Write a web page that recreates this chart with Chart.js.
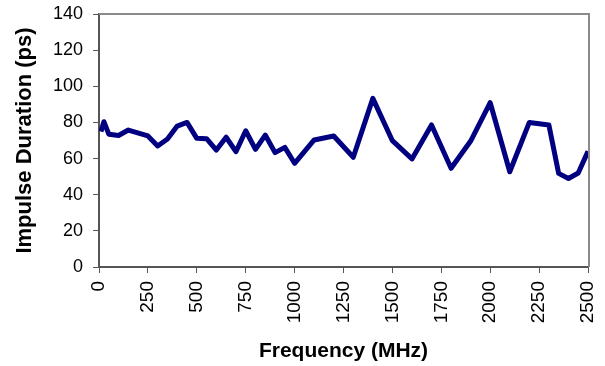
<!DOCTYPE html>
<html>
<head>
<meta charset="utf-8">
<script src="https://cdn.jsdelivr.net/npm/chart.js@4/dist/chart.umd.min.js"></script>
<style>
  html, body { margin: 0; padding: 0; background: #fff; }
  #wrap { width: 605px; height: 366px; }
</style>
</head>
<body>
<div id="wrap"><canvas id="chart" width="605" height="366"></canvas></div>
<script>
// frequency (MHz) and measured impulse duration (ps)
const freqs = [10, 25, 50, 100, 150, 250, 300, 350, 400, 450, 500, 550, 600, 650, 700, 750, 800, 850, 900, 950,
  1000, 1100, 1200, 1300, 1400, 1500, 1600, 1700, 1800, 1900, 2000, 2100, 2200, 2300, 2350, 2400, 2450, 2500];
const durations = [75, 80.4, 73.5, 72.8, 75.8, 72.5, 67, 70.8, 78, 80, 71.2, 71, 64.7, 71.8, 63.8, 75.4, 65.1, 73, 63.3, 66.2,
  57.4, 70.3, 72.5, 60.7, 93.3, 69.9, 59.8, 78.6, 54.6, 69.7, 90.9, 52.7, 80, 78.6, 51.8, 49, 52, 64];

const xTitle = "Frequency (MHz)";
const yTitle = "Impulse Duration (ps)";

const FONT = "'Liberation Sans', Arial, sans-serif";

// grey frame on top and right of the plot area (excel style)
const frame = {
  id: "frame",
  afterDraw(chart) {
    const { ctx, chartArea: a } = chart;
    ctx.save();
    ctx.strokeStyle = "#8a8a8a";
    ctx.lineWidth = 2;
    ctx.beginPath();
    ctx.moveTo(a.left, a.top);
    ctx.lineTo(a.right + 1, a.top);
    ctx.lineTo(a.right + 1, a.bottom);
    ctx.stroke();
    ctx.restore();
  },
};

new Chart(document.getElementById("chart"), {
  type: "line",
  plugins: [frame],
  data: {
    datasets: [
      {
        data: freqs.map((f, i) => ({ x: f, y: durations[i] })),
        borderColor: "#000080",
        borderWidth: 5,
        borderJoinStyle: "round",
        pointRadius: 0,
        tension: 0,
        fill: false,
      },
    ],
  },
  options: {
    responsive: false,
    animation: false,
    layout: { padding: { left: 0, right: 17, top: 14, bottom: 0 } },
    plugins: { legend: { display: false }, tooltip: { enabled: false } },
    scales: {
      x: {
        type: "linear",
        min: 0,
        max: 2500,
        afterFit: (s) => {
          s.height = 99;
          s.paddingLeft = 0;
          s.paddingRight = 0;
        },
        ticks: {
          stepSize: 250,
          minRotation: 90,
          maxRotation: 90,
          padding: 8,
          color: "#000",
          font: { family: FONT, size: 19 },
          callback: (v) => String(v),
        },
        grid: { drawOnChartArea: false, drawTicks: true, tickLength: 6, color: "#555" },
        border: { display: true, color: "#555", width: 2 },
        title: {
          display: true,
          text: xTitle,
          color: "#000",
          font: { family: FONT, size: 21, weight: "bold" },
          padding: { top: 0, bottom: 2 },
        },
      },
      y: {
        min: 0,
        max: 140,
        afterFit: (s) => {
          s.width = 99;
          s.paddingTop = 0;
          s.paddingBottom = 0;
        },
        ticks: {
          stepSize: 20,
          padding: 10,
          color: "#000",
          font: { family: FONT, size: 18 },
        },
        grid: { drawOnChartArea: false, drawTicks: true, tickLength: 6, color: "#555" },
        border: { display: true, color: "#555", width: 2 },
        title: {
          display: true,
          text: yTitle,
          color: "#000",
          font: { family: FONT, size: 22, weight: "bold" },
          padding: { top: 12, bottom: 0 },
        },
      },
    },
  },
});
</script>
</body>
</html>
